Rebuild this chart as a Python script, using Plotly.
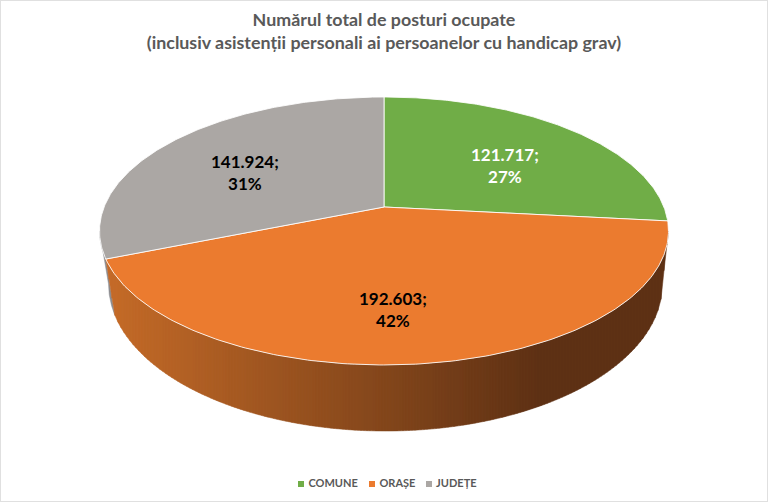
# Libraries
# ===================================================
import numpy as np
import plotly.graph_objects as go

# Data
# ===================================================
categories = ['COMUNE', 'ORAȘE', 'JUDEȚE']
values = [121717, 192603, 141924]
colors = ['#70AD47', '#EB7B2F', '#ABA7A4']
label_colors = ['white', 'black', 'black']

# Layout of the fake 3D pie (pixels of the picture)
# ===================================================
top_face = dict(cx=384, cy=207, a=279.9, b=129.7)
bottom_face = dict(cx=385.5, cy=257.7, a=272.5, b=142.3)
persp = 0.179
silhouette = 100.3  # angle where the rim disappears behind the top face
label_pos = [(505, 165.5), (393, 309), (245, 172)]
legend_x = [301, 372, 429]
legend_y = 484
font_name = 'Lato'


def project(theta_deg, face, r=1.0):
    # Clockwise angle from 12 o'clock, far side squeezed by perspective
    t = np.radians(theta_deg)
    w = 1 + persp * r * np.cos(t)
    x = face['cx'] + face['a'] * r * np.sin(t) / w
    y = face['cy'] - face['b'] * r * np.cos(t) / w
    return x, y


def side_color(x):
    # Shading of the rim, light on the left and dark to the right
    f = np.clip((x - 106) / 434, 0, 1)
    start = np.array([197, 107, 40])
    end = np.array([94, 49, 20])
    c = start + (end - start) * f
    return f'rgb({c[0]:.0f},{c[1]:.0f},{c[2]:.0f})'


# Transform Data
# ===================================================
total = sum(values)
edges = np.cumsum([0] + values) / total * 360

# Data Visualization
# ===================================================
fig = go.Figure()

# Rim of the last slice, only a sliver shows
angles = np.linspace(edges[2], 360 - silhouette, 40)
xt, yt = project(angles, top_face)
xb, yb = project(angles, bottom_face)
fig.add_trace(go.Scatter(
    x=np.r_[xt, xb[::-1], xt[0]],
    y=np.r_[yt, yb[::-1], yt[0]],
    mode='lines',
    fill='toself',
    fillcolor='#8C8C90',
    line=dict(color='#8C8C90', width=0.5),
    hoverinfo='skip',
    showlegend=False
))

# Rim of the orange slice, cut in vertical bands for the shading
angles = np.linspace(edges[2], silhouette, 400)
xt, yt = project(angles, top_face)
xb, yb = project(angles, bottom_face)
lower_x = np.r_[xt[0], xb, xt[-1]]
lower_y = np.r_[yt[0], yb, yt[-1]]
band_x = np.r_[xt[0], np.arange(np.ceil(xt[0]), xt[-1], 3), xt[-1]]
for x0, x1 in zip(band_x[:-1], band_x[1:]):
    xs = [x0, x1, x1, x0, x0]
    up = np.interp([x0, x1], xt, yt)
    lo = np.interp([x0, x1], lower_x, lower_y)
    color = side_color((x0 + x1) / 2)
    fig.add_trace(go.Scatter(
        x=xs,
        y=[up[0], up[1], lo[1], lo[0], up[0]],
        mode='lines',
        fill='toself',
        fillcolor=color,
        line=dict(color=color, width=0.5),
        hoverinfo='skip',
        showlegend=False
    ))

# Top face
for i, cat in enumerate(categories):
    angles = np.linspace(edges[i], edges[i + 1], 200)
    xs, ys = project(angles, top_face)
    x0, y0 = project(0, top_face, r=0)
    fig.add_trace(go.Scatter(
        x=np.r_[x0, xs, x0],
        y=np.r_[y0, ys, y0],
        mode='lines',
        fill='toself',
        fillcolor=colors[i],
        line=dict(color='rgba(255,255,255,0.85)', width=1),
        name=cat,
        hovertemplate=f'{cat}: {values[i]}<extra></extra>',
        showlegend=False
    ))

# Legend
for i, cat in enumerate(categories):
    fig.add_trace(go.Scatter(
        x=[legend_x[i]],
        y=[legend_y],
        mode='markers+text',
        marker=dict(symbol='square', size=6, color=colors[i]),
        text=[f'<b>&nbsp;{cat}</b>'],
        textposition='middle right',
        textfont=dict(family=font_name, size=11, color='#595959'),
        hoverinfo='skip',
        showlegend=False
    ))

# Data labels
for i, cat in enumerate(categories):
    txt = f'{values[i]:,}'.replace(',', '.')
    fig.add_annotation(
        x=label_pos[i][0],
        y=label_pos[i][1],
        text=f'<b>{txt};<br>{values[i] / total * 100:.0f}%</b>',
        showarrow=False,
        font=dict(family=font_name, size=17, color=label_colors[i])
    )

# Configuration plot
fig.update_layout(
    width=768,
    height=502,
    autosize=False,
    margin=dict(l=0, r=0, t=0, b=0),
    plot_bgcolor='white',
    paper_bgcolor='white',
    title=dict(
        text='<b>Numărul total de posturi ocupate<br>(inclusiv asistenții personali ai persoanelor cu handicap grav)</b>',
        x=0.5,
        xanchor='center',
        y=0.948,
        yanchor='middle',
        font=dict(family=font_name, size=17.85, color='#595959')
    ),
    xaxis=dict(range=[0, 768], visible=False),
    yaxis=dict(range=[502, 0], visible=False),
    showlegend=False,
    shapes=[dict(
        type='rect', xref='paper', yref='paper',
        x0=0, x1=1, y0=0, y1=1,
        line=dict(color='#E0E0E0', width=2)
    )]
)

# Save as HTML file!
fig.write_html(
    'out.html',
    config=dict(displayModeBar=False),
    post_script="document.body.style.margin='0';"
)
